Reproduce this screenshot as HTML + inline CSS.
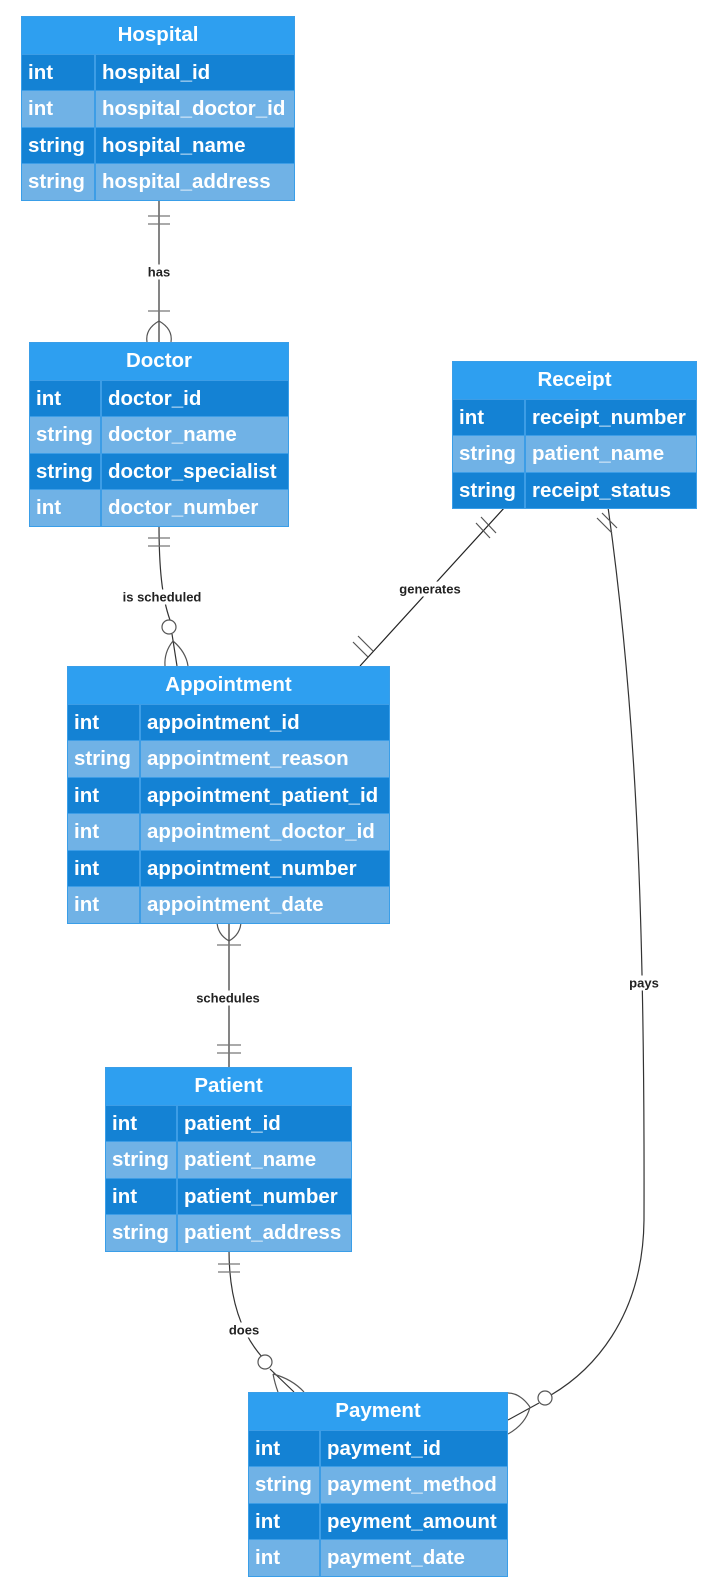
<!DOCTYPE html>
<html><head><meta charset="utf-8"><style>
body{margin:0;width:723px;height:1586px;background:#fff;position:relative;overflow:hidden;font-family:"Liberation Sans",Arial,sans-serif;font-weight:bold}
.t{position:absolute;box-sizing:border-box;border:1px solid #3a9ee8;background:#2e9ff0}
.h{height:36.5px;line-height:36px;text-align:center;color:#fff;font-size:20.5px}
.r{height:36.5px;line-height:35px;color:#fff;font-size:20.5px;display:flex;border-top:1px solid #3d9de6;box-sizing:border-box}
.r span{display:block;padding-left:6px;box-sizing:border-box;white-space:nowrap}
.r span:first-child{border-right:2px solid #3d9de6}
.d{background:#1482d4}.l{background:#70b2e6}
svg{position:absolute;left:0;top:0}
.lb{position:absolute;font-size:13px;color:#222;background:#fff;transform:translate(-50%,-50%);white-space:nowrap;padding:0 1px}
</style></head><body>
<svg width="723" height="1586" fill="none" stroke-width="1.2">
<path d="M159 199 V342" stroke="#333"/>
<path d="M148 216 H170 M148 224 H170 M148 311 H170" stroke="#777"/>
<path d="M159 321 Q145 329 147 342 M159 321 Q173 329 171 342" stroke="#555"/>
<path d="M159 524 C159 568 162 598 170 620 M172 634 L177 666" stroke="#333"/>
<path d="M148 538 H170 M148 546 H170" stroke="#777"/>
<circle cx="169" cy="627" r="7" stroke="#555" fill="#fff"/>
<path d="M173 641 Q164 652 165 666 M173 641 Q186 652 188 666" stroke="#555"/>
<path d="M505 507 L360 666" stroke="#222"/>
<path d="M481 517 L496 533 M476 523 L490 538 M353 642 L368 657 M358 636 L373 651" stroke="#555"/>
<path d="M229 921 V1067" stroke="#333"/>
<path d="M229 941 Q217 934 217 921 M229 941 Q241 934 241 921" stroke="#555"/>
<path d="M217 945 H241 M217 1045 H241 M217 1053 H241" stroke="#777"/>
<path d="M229 1250 C229 1296 240 1332 262 1357 M270 1369 L294 1392" stroke="#333"/>
<path d="M218 1264 H240 M218 1272 H240" stroke="#777"/>
<circle cx="265" cy="1362" r="7" stroke="#555" fill="#fff"/>
<path d="M273 1374 Q275 1384 278 1392 M273 1374 Q292 1379 304 1392" stroke="#555"/>
<path d="M608 507 C635 700 645 900 644 1220 C643 1320 590 1372 551 1395 M539 1403 L508 1420" stroke="#333"/>
<path d="M597 518 L612 533 M602 513 L617 528" stroke="#555"/>
<circle cx="545" cy="1398" r="7" stroke="#555" fill="#fff"/>
<path d="M530 1407 Q520 1393 508 1393 M530 1407 Q526 1424 508 1434" stroke="#555"/>
</svg>
<div class="lb" style="left:159px;top:272px">has</div>
<div class="lb" style="left:162px;top:597px">is scheduled</div>
<div class="lb" style="left:430px;top:589px">generates</div>
<div class="lb" style="left:228px;top:998px">schedules</div>
<div class="lb" style="left:244px;top:1330px">does</div>
<div class="lb" style="left:644px;top:983px">pays</div>

<div class="t" style="left:21px;top:16px;width:274px">
<div class="h">Hospital</div>
<div class="r d"><span style="width:74px">int</span><span>hospital_id</span></div>
<div class="r l"><span style="width:74px">int</span><span>hospital_doctor_id</span></div>
<div class="r d"><span style="width:74px">string</span><span>hospital_name</span></div>
<div class="r l"><span style="width:74px">string</span><span>hospital_address</span></div>
</div>

<div class="t" style="left:29px;top:342px;width:260px">
<div class="h">Doctor</div>
<div class="r d"><span style="width:72px">int</span><span>doctor_id</span></div>
<div class="r l"><span style="width:72px">string</span><span>doctor_name</span></div>
<div class="r d"><span style="width:72px">string</span><span>doctor_specialist</span></div>
<div class="r l"><span style="width:72px">int</span><span>doctor_number</span></div>
</div>

<div class="t" style="left:452px;top:361px;width:245px">
<div class="h">Receipt</div>
<div class="r d"><span style="width:73px">int</span><span>receipt_number</span></div>
<div class="r l"><span style="width:73px">string</span><span>patient_name</span></div>
<div class="r d"><span style="width:73px">string</span><span>receipt_status</span></div>
</div>

<div class="t" style="left:67px;top:666px;width:323px">
<div class="h">Appointment</div>
<div class="r d"><span style="width:73px">int</span><span>appointment_id</span></div>
<div class="r l"><span style="width:73px">string</span><span>appointment_reason</span></div>
<div class="r d"><span style="width:73px">int</span><span>appointment_patient_id</span></div>
<div class="r l"><span style="width:73px">int</span><span>appointment_doctor_id</span></div>
<div class="r d"><span style="width:73px">int</span><span>appointment_number</span></div>
<div class="r l"><span style="width:73px">int</span><span>appointment_date</span></div>
</div>

<div class="t" style="left:105px;top:1067px;width:247px">
<div class="h">Patient</div>
<div class="r d"><span style="width:72px">int</span><span>patient_id</span></div>
<div class="r l"><span style="width:72px">string</span><span>patient_name</span></div>
<div class="r d"><span style="width:72px">int</span><span>patient_number</span></div>
<div class="r l"><span style="width:72px">string</span><span>patient_address</span></div>
</div>

<div class="t" style="left:248px;top:1392px;width:260px">
<div class="h">Payment</div>
<div class="r d"><span style="width:72px">int</span><span>payment_id</span></div>
<div class="r l"><span style="width:72px">string</span><span>payment_method</span></div>
<div class="r d"><span style="width:72px">int</span><span>peyment_amount</span></div>
<div class="r l"><span style="width:72px">int</span><span>payment_date</span></div>
</div>
</body></html>
